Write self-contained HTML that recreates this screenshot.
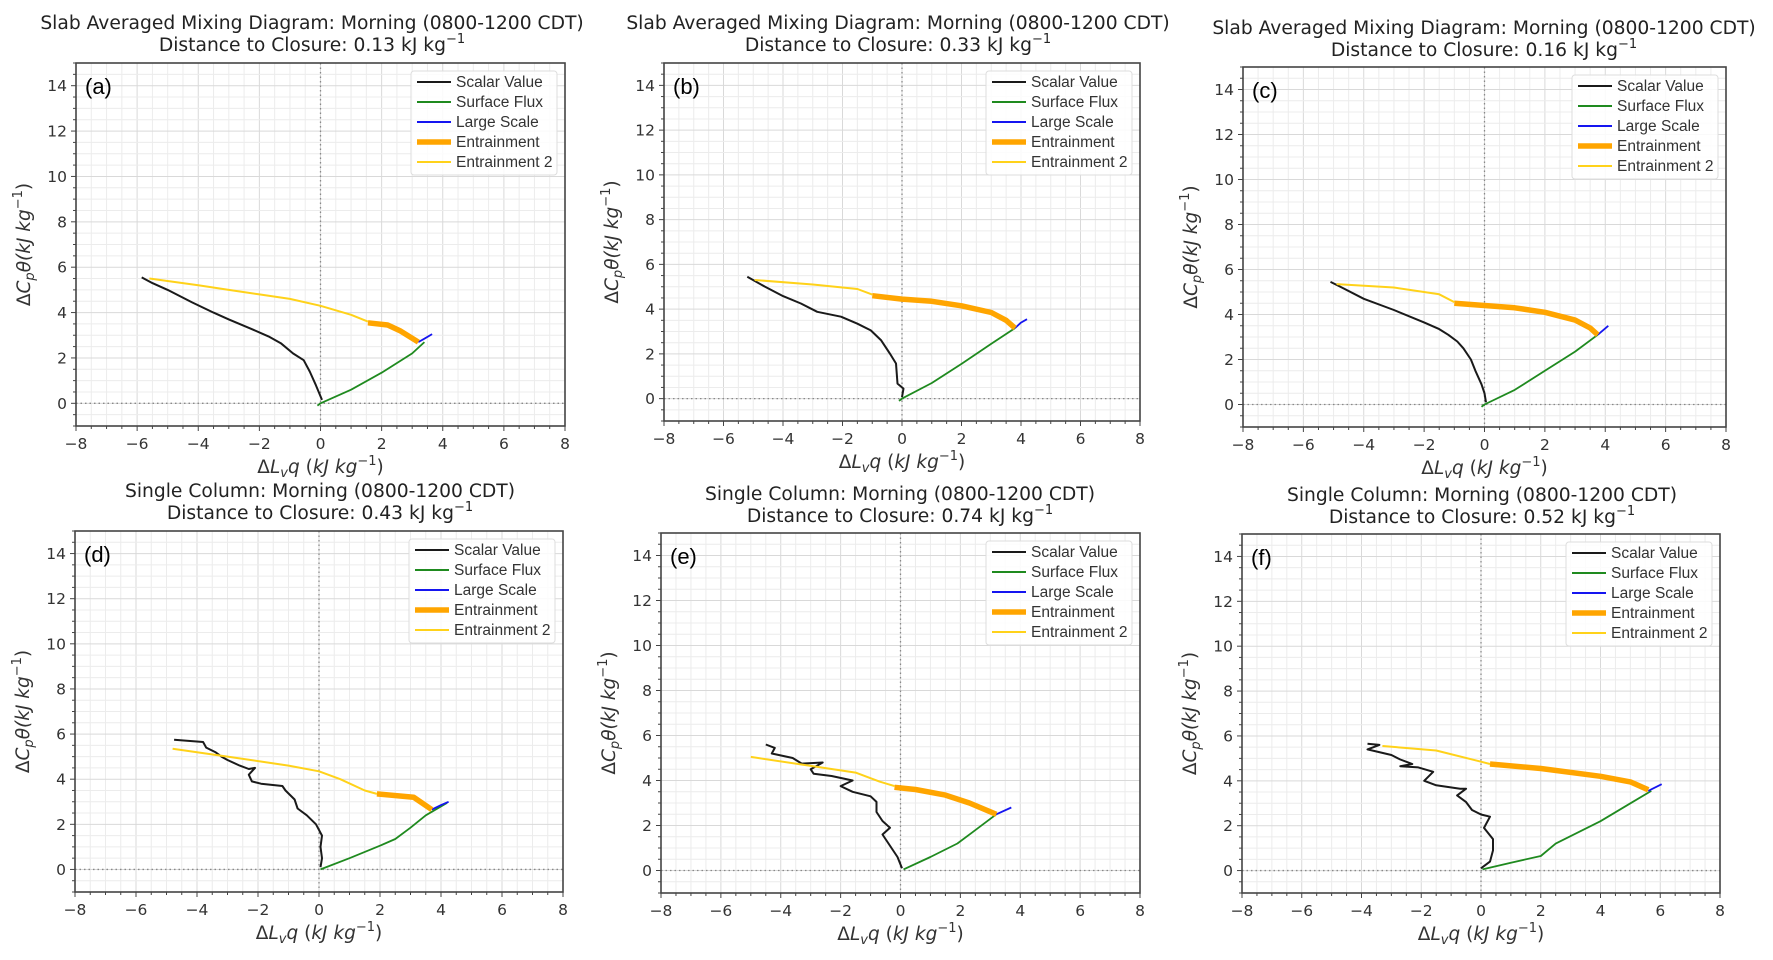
<!DOCTYPE html>
<html><head><meta charset="utf-8">
<style>
body{margin:0;background:#fff;}
svg{display:block;font-family:"DejaVu Sans","Liberation Sans",sans-serif;}
</style></head>
<body>
<svg id="fig" width="1773" height="960" viewBox="0 0 1773 960" xmlns="http://www.w3.org/2000/svg"></svg>
<script>
// ---- data ----
const xTicks=[-8,-6,-4,-2,0,2,4,6,8];
const yTicks=[0,2,4,6,8,10,12,14];
const seriesNames=["Scalar Value","Surface Flux","Large Scale","Entrainment","Entrainment 2"];
const panelLetters=["(a)","(b)","(c)","(d)","(e)","(f)"];
const titleLine1=["Slab Averaged Mixing Diagram: Morning (0800-1200 CDT)","Slab Averaged Mixing Diagram: Morning (0800-1200 CDT)","Slab Averaged Mixing Diagram: Morning (0800-1200 CDT)","Single Column: Morning (0800-1200 CDT)","Single Column: Morning (0800-1200 CDT)","Single Column: Morning (0800-1200 CDT)"];
const closureValues=["0.13","0.33","0.16","0.43","0.74","0.52"];

const scalarA=[[-5.85,5.55],[-5.5,5.3],[-5,5.0],[-4.2,4.45],[-3.5,4.0],[-3,3.7],[-2.3,3.3],[-1.7,2.95],[-1.3,2.65],[-0.9,2.2],[-0.55,1.9],[-0.35,1.4],[-0.15,0.8],[0.05,0.15]];
const yellowA=[[-5.6,5.5],[-4,5.2],[-3,5.0],[-2,4.8],[-1,4.6],[0,4.3],[1,3.9],[1.55,3.6]];
const orangeA=[[1.55,3.55],[2.2,3.45],[2.6,3.2],[3.2,2.7]];
const greenA=[[-0.1,-0.1],[0,0],[1,0.6],[2,1.35],[3,2.2],[3.4,2.7]];
const blueA=[[3.2,2.7],[3.4,2.85],[3.65,3.05]];

const scalarB=[[-5.2,5.45],[-4.6,5.0],[-4,4.58],[-3.4,4.25],[-2.85,3.88],[-2.05,3.66],[-1.5,3.35],[-1.05,3.05],[-0.7,2.6],[-0.4,2.0],[-0.2,1.57],[-0.15,0.67],[0.05,0.45],[0,0.07]];
const yellowB=[[-4.95,5.3],[-3,5.1],[-1.5,4.9],[-1,4.65]];
const orangeB=[[-1,4.6],[0,4.45],[1,4.35],[2,4.15],[3,3.85],[3.5,3.5],[3.8,3.15]];
const greenB=[[-0.1,-0.1],[0,0],[1,0.7],[2,1.55],[3,2.45],[3.8,3.15]];
const blueB=[[3.8,3.15],[4.0,3.4],[4.2,3.55]];

const scalarC=[[-5.1,5.45],[-4.8,5.25],[-4,4.7],[-3,4.2],[-2,3.65],[-1.5,3.35],[-1.2,3.1],[-0.9,2.8],[-0.7,2.5],[-0.45,2.0],[-0.3,1.5],[-0.1,0.9],[0,0.5],[0.05,0.1]];
const yellowC=[[-4.9,5.35],[-3,5.2],[-1.5,4.9],[-1,4.55]];
const orangeC=[[-1,4.5],[0,4.4],[1,4.3],[2,4.1],[3,3.75],[3.5,3.4],[3.75,3.1]];
const greenC=[[-0.1,-0.1],[0,0],[1,0.65],[2,1.5],[3,2.35],[3.75,3.1]];
const blueC=[[3.75,3.1],[4.1,3.5]];

const scalarD=[[-4.75,5.75],[-3.8,5.65],[-3.7,5.4],[-3.4,5.2],[-3.2,5.0],[-3,4.85],[-2.6,4.6],[-2.3,4.45],[-2.1,4.5],[-2.3,4.2],[-2.2,3.9],[-1.9,3.8],[-1.2,3.7],[-1.1,3.5],[-0.8,3.1],[-0.7,2.7],[-0.4,2.4],[-0.1,2.0],[0.1,1.5],[0.05,1.0],[0.1,0.5],[0.05,0.1]];
const yellowD=[[-4.8,5.35],[-3,5.0],[-1,4.6],[0,4.35],[0.7,4.0],[1.5,3.5],[1.9,3.35]];
const orangeD=[[1.9,3.35],[3.1,3.2],[3.7,2.65]];
const greenD=[[0.05,0],[1,0.5],[2,1.05],[2.5,1.35],[3,1.85],[3.5,2.4],[4.2,2.95]];
const blueD=[[3.7,2.65],[4.0,2.85],[4.25,3.0]];

const scalarE=[[-4.5,5.6],[-4.2,5.45],[-4.3,5.2],[-3.6,5.0],[-3.3,4.75],[-2.6,4.8],[-3.0,4.5],[-2.9,4.3],[-2.3,4.2],[-1.6,4.0],[-2.0,3.75],[-1.6,3.5],[-1.0,3.3],[-0.8,3.05],[-0.8,2.6],[-0.6,2.2],[-0.35,1.9],[-0.6,1.6],[-0.3,1.0],[-0.1,0.6],[0.05,0.1]];
const yellowE=[[-5.0,5.05],[-3,4.65],[-1.5,4.35],[-0.7,3.95],[-0.2,3.75]];
const orangeE=[[-0.2,3.7],[0.5,3.6],[1.5,3.35],[2.3,3.0],[3.2,2.5]];
const greenE=[[0.1,0.05],[1,0.6],[1.9,1.2],[2.4,1.7],[3.2,2.5]];
const blueE=[[3.2,2.5],[3.7,2.8]];

const scalarF=[[-3.8,5.65],[-3.4,5.6],[-3.8,5.4],[-3.0,5.15],[-2.7,4.95],[-2.3,4.75],[-2.7,4.65],[-2.1,4.6],[-1.6,4.4],[-1.9,4.0],[-1.5,3.8],[-0.7,3.65],[-0.5,3.65],[-0.8,3.35],[-0.5,3.05],[-0.3,2.7],[0.0,2.5],[0.3,2.4],[0.1,1.9],[0.4,1.4],[0.4,0.9],[0.3,0.4],[0.0,0.1]];
const yellowF=[[-3.3,5.55],[-1.5,5.35],[0,4.85],[0.3,4.75]];
const orangeF=[[0.3,4.75],[2,4.55],[4,4.2],[5,3.95],[5.6,3.6]];
const greenF=[[0.05,0.05],[1,0.35],[2,0.65],[2.5,1.2],[4,2.2],[5,3.0],[5.7,3.55]];
const blueF=[[5.6,3.55],[6.05,3.85]];

const panelSeries=[
 [scalarA,greenA,blueA,orangeA,yellowA],
 [scalarB,greenB,blueB,orangeB,yellowB],
 [scalarC,greenC,blueC,orangeC,yellowC],
 [scalarD,greenD,blueD,orangeD,yellowD],
 [scalarE,greenE,blueE,orangeE,yellowE],
 [scalarF,greenF,blueF,orangeF,yellowF]];

// ---- layout ----
const boxes=[
 {L:76,R:565,T:63,B:426,tx:312,ty:29},
 {L:664,R:1140,T:63,B:421,tx:898,ty:29},
 {L:1243,R:1726,T:67,B:427,tx:1484,ty:34},
 {L:75,R:563,T:531,B:892,tx:320,ty:497},
 {L:661,R:1140,T:533,B:893,tx:900,ty:500},
 {L:1242,R:1720,T:534,B:893,tx:1482,ty:501}];
const styles=[{c:"#1a1a1a",w:2},{c:"#1f8a1f",w:1.8},{c:"#1515f0",w:1.8},{c:"#ffa500",w:5.5},{c:"#ffd21a",w:2}];
const NS="http://www.w3.org/2000/svg";
const fig=document.getElementById('fig');
function mk(tag,attrs,parent){const e=document.createElementNS(NS,tag);for(const k in attrs)e.setAttribute(k,attrs[k]);(parent||fig).appendChild(e);return e;}

boxes.forEach((b,pi)=>{
 const g=mk('g',{});
 
 
 const sx=v=>b.L+(v+8)/16*(b.R-b.L);
 const sy=v=>b.B-(v+1)/16*(b.B-b.T);
 for(let v=-8;v<=8;v+=0.5){const l=mk('line',{x1:sx(v),x2:sx(v),y1:b.T,y2:b.B,stroke:v%2===0?"#d9d9d9":"#ececec","stroke-width":1},g);}
 for(let v=-1;v<=15;v+=0.5){const l=mk('line',{x1:b.L,x2:b.R,y1:sy(v),y2:sy(v),stroke:v%2===0?"#d9d9d9":"#ececec","stroke-width":1},g);}
 const zx=mk('line',{x1:sx(0),x2:sx(0),y1:b.T,y2:b.B,stroke:"#888","stroke-width":1.3,"stroke-dasharray":"1.5,3"},g);
 
 const zy=mk('line',{x1:b.L,x2:b.R,y1:sy(0),y2:sy(0),stroke:"#888","stroke-width":1.3,"stroke-dasharray":"1.5,3"},g);
 
 panelSeries[pi].forEach((pts,si)=>{
  const p=mk('polyline',{points:pts.map(q=>sx(q[0]).toFixed(1)+","+sy(q[1]).toFixed(1)).join(" "),fill:"none",stroke:styles[si].c,"stroke-width":styles[si].w,"stroke-linejoin":"round"},g);
  
  
 });
 const fr=mk('rect',{x:b.L,y:b.T,width:b.R-b.L,height:b.B-b.T,fill:"none",stroke:"#444","stroke-width":1.6},g);
 
 for(let v=-8;v<=8;v+=0.5){mk('line',{x1:sx(v),x2:sx(v),y1:b.B,y2:b.B+(v%2===0?5:3),stroke:"#444"},g);}
 for(let v=-1;v<=15;v+=0.5){mk('line',{x1:b.L,x2:b.L-(v%2===0?5:3),y1:sy(v),y2:sy(v),stroke:"#444"},g);}
 xTicks.forEach(v=>{const t=mk('text',{x:sx(v),y:b.B+23,"text-anchor":"middle","font-size":15.5,fill:"#333"},g);t.textContent=(v<0?"\u2212"+(-v):v);});
 yTicks.forEach(v=>{const t=mk('text',{x:b.L-9,y:sy(v)+5.5,"text-anchor":"end","font-size":15.5,fill:"#333"},g);t.textContent=v;});
 const xl=mk('text',{x:(b.L+b.R)/2,y:b.B+47,"text-anchor":"middle","font-size":18.5,fill:"#333"},g);
 xl.innerHTML='\u0394<tspan font-style="italic">L</tspan><tspan font-style="italic" font-size="13" dy="4">v</tspan><tspan font-style="italic" dy="-4">q</tspan> (<tspan font-style="italic">kJ kg</tspan><tspan font-size="13" dy="-8">\u22121</tspan><tspan dy="8">)</tspan>';
 
 const yx=b.L-46, yy=(b.T+b.B)/2;
 const yl=mk('text',{x:yx,y:yy,"text-anchor":"middle","font-size":18.5,fill:"#333",transform:`rotate(-90 ${yx} ${yy})`},g);
 yl.innerHTML='\u0394<tspan font-style="italic">C</tspan><tspan font-style="italic" font-size="13" dy="4">p</tspan><tspan font-style="italic" dy="-4">\u03b8(kJ kg</tspan><tspan font-size="13" dy="-8">\u22121</tspan><tspan dy="8">)</tspan>';
 
 const t1=mk('text',{x:b.tx,y:b.ty,"text-anchor":"middle","font-size":18.7,fill:"#222"},g);t1.textContent=titleLine1[pi];
 
 const t2=mk('text',{x:b.tx,y:b.ty+22,"text-anchor":"middle","font-size":18.7,fill:"#222"},g);
 t2.innerHTML='Distance to Closure: '+closureValues[pi]+' kJ kg<tspan font-size="13" dy="-8">\u22121</tspan>';
 
 const lt=mk('text',{x:b.L+9,y:b.T+31,"font-size":22,fill:"#000","font-family":"Liberation Sans, sans-serif"},g);lt.textContent=panelLetters[pi];
 
 const lg=mk('g',{},g);
 const lw=146,lx=b.R-lw-8,ly=b.T+8;
 mk('rect',{x:lx,y:ly,width:lw,height:104,rx:3,fill:"#fff","fill-opacity":0.85,stroke:"#ddd"},lg);
 seriesNames.forEach((n,i)=>{
  const yy2=ly+11+i*20;
  const ln=mk('line',{x1:lx+6,x2:lx+40,y1:yy2,y2:yy2,stroke:styles[i].c,"stroke-width":i===3?5.5:2},lg);
  
  const tx=mk('text',{x:lx+45,y:yy2+5,"font-size":15.5,fill:"#333","font-family":"Liberation Sans, sans-serif"},lg);tx.textContent=n;
  
 });
});
</script>
</body></html>
